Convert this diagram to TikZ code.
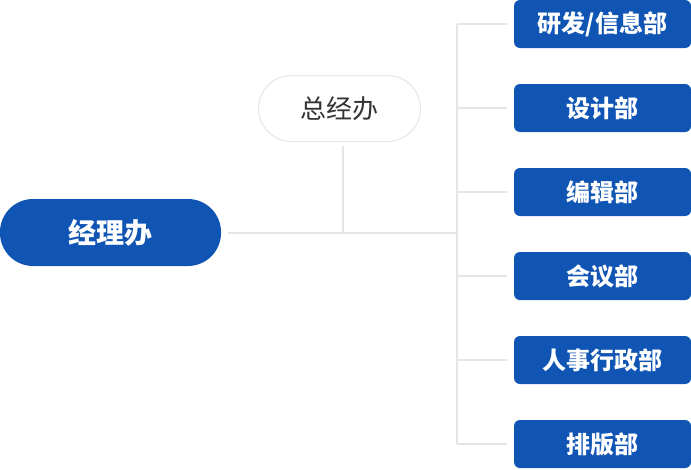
\documentclass[tikz,border=0pt]{standalone}
\usepackage{fontspec}
\newfontfamily\cjk{Noto Sans CJK SC}
\usepackage{tikz}
\usetikzlibrary{positioning,calc}
\definecolor{orgblue}{HTML}{1055B4}
\definecolor{orgline}{HTML}{E5E5E5}
\definecolor{orgtext}{HTML}{333333}
\tikzset{
	org chart/.style={x=1pt,y=-1pt,line width=2pt,draw=orgline},
	wire/.style={draw=orgline,line width=2pt},
	dept/.style={fill=orgblue,text=white,rounded corners=6pt,
		minimum width=177pt,minimum height=48pt,inner sep=0pt,
		font=\cjk\bfseries\fontsize{24}{24}\selectfont},
	boss/.style={fill=orgblue,text=white,rounded corners=33pt,
		minimum width=221pt,minimum height=67pt,inner sep=0pt,
		font=\cjk\bfseries\fontsize{28}{28}\selectfont},
	office/.style={fill=white,draw=orgline,line width=1pt,text=orgtext,rounded corners=33pt,
		minimum width=162pt,minimum height=66pt,inner sep=0pt,
		font=\cjk\fontsize{26}{26}\selectfont}
}

\begin{document}
\begin{tikzpicture}[org chart]
	\useasboundingbox (0,0) rectangle (691,469);
	\node[boss] (M) at (110.5,232.5) {经理办};
	\node[office] (G) at (339.5,108.5) {总经办};
	\foreach \t [count=\i] in {研发/信息部,设计部,编辑部,会议部,人事行政部,排版部}
		\node[dept] (D\i) at (602.5,{24+84*(\i-1)}) {\t};
	\coordinate (T) at (457,233);
	% main line and the office above it
	\draw[wire] ([xshift=6pt]M.east |- T) -- (T);
	\draw[wire] ([xshift=3.5pt,yshift=-4pt]G.south) -- ([xshift=3.5pt]G.south |- T);
	% trunk and branches
	\draw[wire] (T |- D1) -- (T |- D6);
	\foreach \i in {1,...,6}
		\draw[wire] (T |- D\i) -- ([xshift=-6pt]D\i.west);
\end{tikzpicture}
\end{document}
